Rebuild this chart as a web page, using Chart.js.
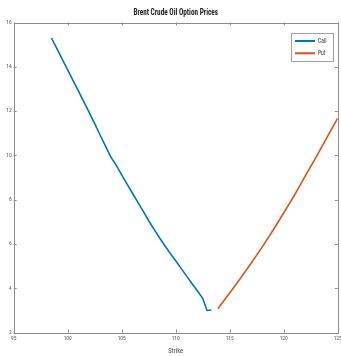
<!DOCTYPE html>
<html>
<head>
<meta charset="utf-8">
<script src="https://cdn.jsdelivr.net/npm/chart.js@4"></script>
<style>
html,body{margin:0;padding:0;background:#fff;}
#wrap{width:341px;height:356px;position:relative;}
</style>
</head>
<body>
<div id="wrap"><canvas id="c" width="341" height="356"></canvas></div>
<script>
const chartTitle = "Brent Crude Oil Option Prices";
const xLabel = "Strike";
const seriesNames = ["Call", "Put"];
const callStrikes = [98.5,99,99.5,100,100.5,101,101.5,102,102.5,103,103.5,104,104.5,105,105.5,106,106.5,107,107.5,108,108.5,109,109.5,110,110.5,111,111.5,112,112.5,112.9,113.3];
const callPrices  = [15.30,14.82,14.34,13.86,13.38,12.90,12.42,11.93,11.43,10.92,10.42,9.92,9.55,9.12,8.70,8.29,7.88,7.47,7.05,6.66,6.28,5.92,5.57,5.24,4.90,4.56,4.22,3.89,3.55,3.00,3.02];
const putStrikes  = [113.9,114,115,116,117,118,119,120,121,122,123,124,125];
const putPrices   = [3.08,3.14,3.79,4.45,5.14,5.86,6.61,7.40,8.21,9.08,9.92,10.80,11.68];
const xMin = 95, xMax = 125, xStep = 5;
const yMin = 2, yMax = 16, yStep = 2;

const FONT = "'Roboto Condensed','Liberation Sans',sans-serif";
const colors = ["#0072BD", "#D95319"];

function pts(xs, ys){ return xs.map((x,i)=>({x:x, y:ys[i]})); }

function squeezeText(ctx, text, x, y, sx, align){
  ctx.save();
  ctx.translate(x, y);
  ctx.scale(sx, 1);
  ctx.textAlign = align;
  ctx.fillText(text, 0, 0);
  ctx.restore();
}

const boxPlugin = {
  id: 'boxTicks',
  afterDraw(chart){
    const ctx = chart.ctx, a = chart.chartArea;
    const xs = chart.scales.x, ys = chart.scales.y;
    ctx.save();
    ctx.strokeStyle = '#8c8c8c';
    ctx.lineWidth = 1;
    ctx.strokeRect(Math.round(a.left)+0.5, Math.round(a.top)+0.5, Math.round(a.right-a.left), Math.round(a.bottom-a.top));
    const L = 3;
    ctx.beginPath();
    xs.ticks.forEach(t=>{
      const px = Math.round(xs.getPixelForValue(t.value))+0.5;
      ctx.moveTo(px, a.bottom); ctx.lineTo(px, a.bottom - L);
      ctx.moveTo(px, a.top); ctx.lineTo(px, a.top + L);
    });
    ys.ticks.forEach(t=>{
      const py = Math.round(ys.getPixelForValue(t.value))+0.5;
      ctx.moveTo(a.left, py); ctx.lineTo(a.left + L, py);
      ctx.moveTo(a.right, py); ctx.lineTo(a.right - L, py);
    });
    ctx.stroke();
    // title
    ctx.fillStyle = '#222';
    ctx.font = 'bold 9px ' + FONT;
    ctx.textBaseline = 'middle';
    squeezeText(ctx, chartTitle, (a.left + a.right)/2, 13, 0.8, 'center');
    // legend
    const bx = 291.5, by = 33.5, bw = 42, bh = 28;
    ctx.fillStyle = '#fff';
    ctx.fillRect(bx, by, bw, bh);
    ctx.strokeStyle = '#a0a0a0';
    ctx.strokeRect(bx, by, bw, bh);
    ctx.font = '8px ' + FONT;
    ctx.textBaseline = 'middle';
    chart.data.datasets.forEach((ds,i)=>{
      const ly = by + 7.5 + i*12.3;
      ctx.strokeStyle = ds.borderColor;
      ctx.lineWidth = 2;
      ctx.beginPath(); ctx.moveTo(bx+3.5, ly); ctx.lineTo(bx+23.5, ly); ctx.stroke();
      ctx.fillStyle = '#333';
      squeezeText(ctx, ds.label, bx+26.5, ly, 0.7, 'left');
    });
    ctx.restore();
  }
};

new Chart(document.getElementById('c'), {
  type: 'line',
  data: {
    datasets: [
      {label: seriesNames[0], data: pts(callStrikes, callPrices), borderColor: colors[0], backgroundColor: colors[0], borderWidth: 1.6, pointRadius: 0, tension: 0, fill: false},
      {label: seriesNames[1], data: pts(putStrikes, putPrices), borderColor: colors[1], backgroundColor: colors[1], borderWidth: 1.6, pointRadius: 0, tension: 0, fill: false}
    ]
  },
  options: {
    responsive: false,
    animation: false,
    devicePixelRatio: 1,
    layout: {padding: {left: 0, right: 3.3, top: 22.5, bottom: 0}},
    plugins: {
      legend: {display: false},
      tooltip: {enabled: false},
      title: {display: false}
    },
    scales: {
      x: {
        type: 'linear', min: xMin, max: xMax,
        afterFit(s){ s.height = 23.4; s.paddingLeft = 0; s.paddingRight = 0; },
        grid: {display: false, drawTicks: false},
        border: {display: false},
        ticks: {stepSize: xStep, autoSkip: false, maxRotation: 0, padding: 3, color: '#555', font: {family: FONT, size: 5.5}},
        title: {display: true, text: xLabel, color: '#444', padding: {top: 0, bottom: 1}, font: {family: FONT, size: 6.5, lineHeight: 1.2}}
      },
      y: {
        type: 'linear', min: yMin, max: yMax,
        afterFit(s){ s.width = 13.7; s.paddingTop = 0; s.paddingBottom = 0; },
        grid: {display: false, drawTicks: false},
        border: {display: false},
        ticks: {stepSize: yStep, autoSkip: false, padding: 2, color: '#555', font: {family: FONT, size: 5.5}}
      }
    }
  },
  plugins: [boxPlugin]
});
</script>
</body>
</html>
